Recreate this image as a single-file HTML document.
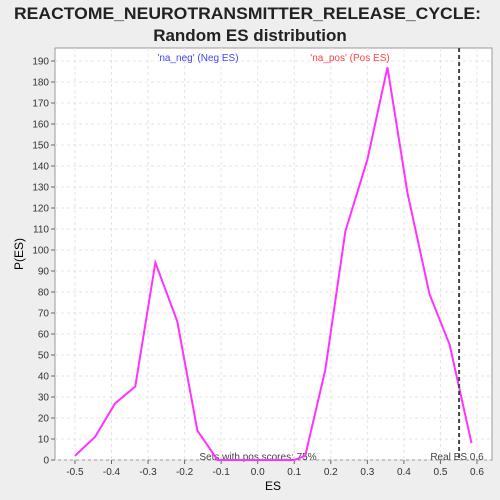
<html><body style="margin:0;background:#eeeeee">
<svg width="500" height="500" xmlns="http://www.w3.org/2000/svg" font-family="Liberation Sans, sans-serif">
<text x="14" y="19" font-size="17" font-weight="bold" fill="#222" textLength="467" lengthAdjust="spacingAndGlyphs">REACTOME_NEUROTRANSMITTER_RELEASE_CYCLE:</text>
<text x="250" y="41" text-anchor="middle" font-size="17" font-weight="bold" fill="#222">Random ES distribution</text>
<rect x="55" y="48" width="437" height="412" fill="#fff" stroke="#999"/>
<g id="grid"></g><g id="axes"></g>
<text transform="translate(23,254) rotate(-90)" text-anchor="middle" font-size="12">P(ES)</text>
<text x="273" y="490" text-anchor="middle" font-size="12">ES</text>
<text x="198" y="61" text-anchor="middle" font-size="10" fill="#4444ff">'na_neg' (Neg ES)</text>
<text x="350" y="61" text-anchor="middle" font-size="10" fill="#ff4444">'na_pos' (Pos ES)</text>
<text x="258" y="460" text-anchor="middle" font-size="10" fill="#444">Sets with pos scores: 75%</text>
<text x="457" y="460" text-anchor="middle" font-size="10" fill="#444">Real ES 0.6</text>
<g id="marks"></g>
</svg>
<script>
const esValues=[-0.5,-0.445,-0.39,-0.335,-0.28,-0.22,-0.165,-0.11,-0.055,0,0.05,0.1,0.13,0.185,0.24,0.3,0.355,0.41,0.47,0.525,0.585];
const pValues=[2,11,27,35,94,66,14,0,0,0,0,0,2,43,109,143,187,127,79,55,8];
const xTicks=[-0.5,-0.4,-0.3,-0.2,-0.1,0,0.1,0.2,0.3,0.4,0.5,0.6];
const yTicks=[0,10,20,30,40,50,60,70,80,90,100,110,120,130,140,150,160,170,180,190];
const realES=0.551;
const NS="http://www.w3.org/2000/svg";
const xs=v=>257.7+v*365.5, ys=v=>460-v*2.1;
function mk(t,a,p){const e=document.createElementNS(NS,t);for(const k in a)e.setAttribute(k,a[k]);document.getElementById(p).appendChild(e);return e;}
xTicks.forEach(v=>{const x=xs(v);
const g=mk('line',{x1:x,x2:x,y1:48,y2:460,stroke:'#e4e4e4','stroke-dasharray':'3,3'},'grid');
const t=mk('line',{x1:x,x2:x,y1:460,y2:464,stroke:'#666'},'axes');
const l=mk('text',{x:x,y:475,'text-anchor':'middle','font-size':10,fill:'#333'},'axes');l.textContent=(Math.round(v*10)/10).toFixed(1);});
yTicks.forEach(v=>{const y=ys(v);
const g=mk('line',{x1:55,x2:492,y1:y,y2:y,stroke:'#e4e4e4','stroke-dasharray':'3,3'},'grid');
const t=mk('line',{x1:51,x2:55,y1:y,y2:y,stroke:'#666'},'axes');
const l=mk('text',{x:49,y:y+3.5,'text-anchor':'end','font-size':10,fill:'#333'},'axes');l.textContent=v;});
const pl=mk('polyline',{points:esValues.map((v,i)=>xs(v)+','+ys(pValues[i])).join(' '),fill:'none',stroke:'#ff33ff','stroke-width':2},'marks');

const rl=mk('line',{x1:xs(realES),x2:xs(realES),y1:48,y2:460,stroke:'#444','stroke-width':2,'stroke-dasharray':'4,3'},'marks');

</script>
</body></html>
